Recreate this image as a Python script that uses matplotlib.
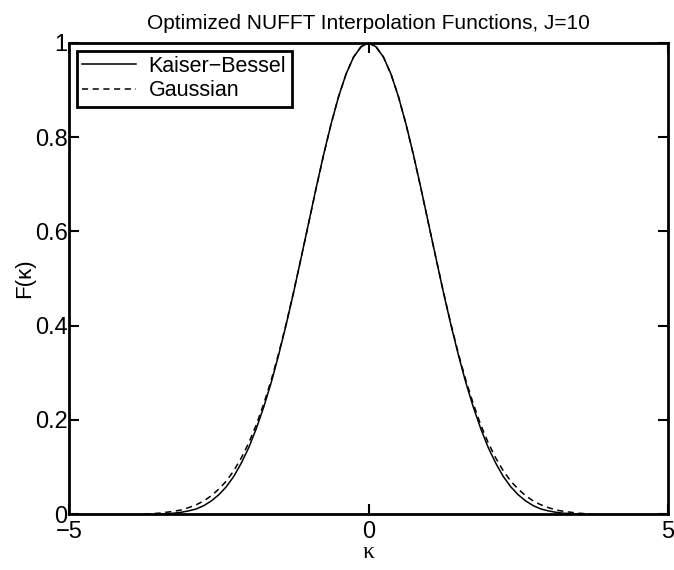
import numpy as np
import matplotlib
matplotlib.use("Agg")
import matplotlib.pyplot as plt

plt.rcParams['font.family'] = ['Liberation Sans', 'DejaVu Sans']

# valores (lado positivo, la curva es simetrica)
kappa_kb = [0, 0.125, 0.25, 0.375, 0.5, 0.625, 0.75, 0.875, 1.0, 1.125, 1.25, 1.375,
            1.5, 1.625, 1.75, 1.875, 2.0, 2.125, 2.25, 2.375, 2.5, 2.625, 2.75,
            2.875, 3.0, 3.125, 3.25, 3.375, 3.5]
f_kb = [1.000, 0.992, 0.970, 0.934, 0.886, 0.828, 0.763, 0.692, 0.618, 0.544, 0.471,
        0.402, 0.338, 0.279, 0.227, 0.181, 0.141, 0.108, 0.080, 0.058, 0.041, 0.028,
        0.018, 0.011, 0.007, 0.004, 0.002, 0.001, 0.0]

kappa_gauss = [0, 0.125, 0.25, 0.375, 0.5, 0.625, 0.75, 0.875, 1.0, 1.125, 1.25, 1.375,
               1.5, 1.625, 1.75, 1.875, 2.0, 2.125, 2.25, 2.375, 2.5, 2.625, 2.75,
               2.875, 3.0, 3.125, 3.25, 3.375, 3.5, 3.625, 3.75]
f_gauss = [1.000, 0.992, 0.970, 0.934, 0.886, 0.828, 0.762, 0.691, 0.617, 0.544, 0.472,
           0.404, 0.341, 0.284, 0.234, 0.189, 0.151, 0.119, 0.092, 0.070, 0.053, 0.039,
           0.028, 0.020, 0.014, 0.009, 0.006, 0.004, 0.002, 0.001, 0.0]

x_ticks = [-5, 0, 5]
y_ticks = [0, 0.2, 0.4, 0.6, 0.8, 1]
y_tick_labels = ["0", "0.2", "0.4", "0.6", "0.8", "1"]


def mirror(k, f):
    k = np.array(k)
    f = np.array(f)
    return np.concatenate([-k[:0:-1], k]), np.concatenate([f[:0:-1], f])


kk, fk = mirror(kappa_kb, f_kb)
kg, fg = mirror(kappa_gauss, f_gauss)

fig = plt.figure(figsize=(6.74, 5.70), dpi=100)
ax = fig.add_axes([0.1024, 0.098, 0.8887, 0.8266])

ax.plot(kk, fk, "-", color="black", lw=1.1, label="Kaiser\u2212Bessel")
ax.plot(kg, fg, "--", color="black", lw=1.1, dashes=(4, 3), label="Gaussian")

ax.set_xlim(-5, 5)
ax.set_ylim(0, 1)
ax.set_xticks(x_ticks)
ax.set_yticks(y_ticks)
ax.set_yticklabels(y_tick_labels)
ax.tick_params(direction="in", length=7, width=1.5, top=True, right=True,
               labelsize=17, pad=1)
ax.tick_params(axis="x", pad=5)
for s in ax.spines.values():
    s.set_linewidth(2)

ax.set_title("Optimized NUFFT Interpolation Functions, J=10", fontsize=15, pad=10)
ax.set_xlabel("\u03ba", fontsize=17, family=["Liberation Serif", "DejaVu Serif"], labelpad=-1)
ax.set_ylabel("F(\u03ba)", fontsize=16, labelpad=0)

leg = ax.legend(loc="upper left", fontsize=15.5, fancybox=False, framealpha=1,
                edgecolor="black", handlelength=2.5, borderaxespad=0.35,
                labelspacing=0.15, borderpad=0.25, handletextpad=0.6)
leg.get_frame().set_linewidth(2)

fig.savefig("out.png", dpi=100)
